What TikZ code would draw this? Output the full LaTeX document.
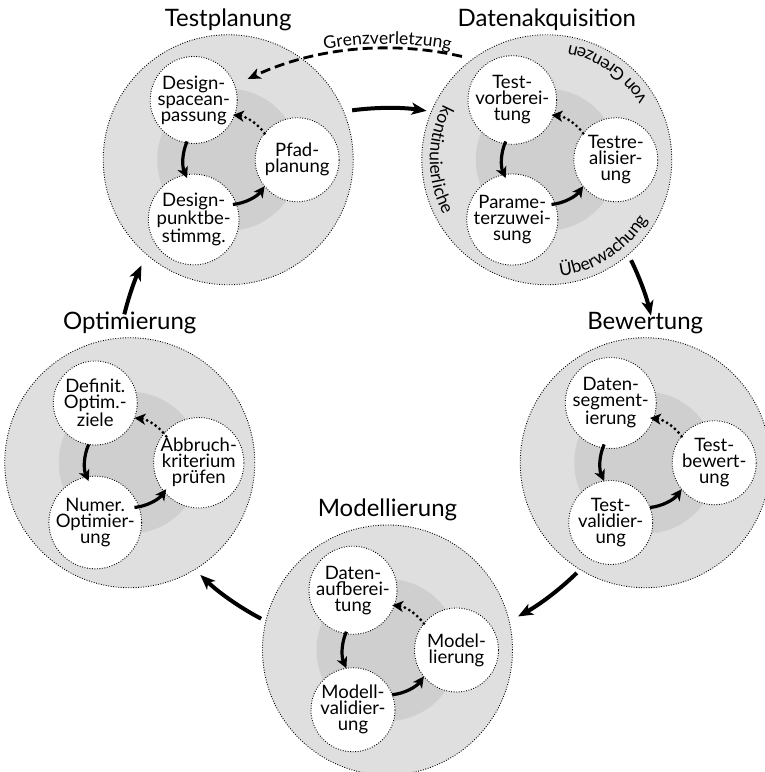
\documentclass[tikz,border=0pt]{standalone}
\usepackage{fontspec}
\setmainfont{Lato}
\usetikzlibrary{calc,arrows.meta,decorations.text}

\definecolor{outerfill}{gray}{0.875}
\definecolor{innerfill}{gray}{0.81}

\newcommand\stagefont{\fontsize{24pt}{28pt}\selectfont}
\newcommand\stepfont{\fontsize{18.5pt}{16pt}\selectfont}
\newcommand\curvefont{\fontsize{17.5pt}{19pt}\selectfont}

% one stage: name, angle on the cycle, title, upper task, lower task, right task
\newcommand\stagenode[6]{%
  \node[stage] (#1) at ($(P)+(#2:271)$) {};
  \node[core] (#1c) at (#1) {};
  \node[stagelabel] (#1l) at ($(#1.north)+(0,8.5)$) {#3};
  \node[task] (#1a) at ($(#1)+(120:69)$) {#4};
  \node[task] (#1b) at ($(#1)+(240:69)$) {#5};
  \node[task] (#1r) at ($(#1)+(0:69)$) {#6};
  \coordinate (#1s1) at ($(#1)+(156:45)$);
  \coordinate (#1s2) at ($(#1)+(276:45)$);
  \coordinate (#1s3) at ($(#1)+(36:45)$);
  \draw[turn] (#1s1) arc[start angle=156, end angle=204, radius=45];
  \draw[turn] (#1s2) arc[start angle=276, end angle=324, radius=45];
  \draw[backstep] (#1s3) arc[start angle=36, end angle=84, radius=45];
}

\begin{document}
\begin{tikzpicture}[x=1pt,y=1pt,
  stage/.style={circle, minimum size=250pt, inner sep=0pt, outer sep=0pt,
    fill=outerfill, draw, line width=0.9pt, dash pattern=on 0.9pt off 1.6pt},
  core/.style={circle, minimum size=142pt, inner sep=0pt, outer sep=0pt, fill=innerfill},
  task/.style={circle, minimum size=84pt, inner sep=0pt, outer sep=0pt, fill=white,
    draw, line width=0.9pt, dash pattern=on 0.9pt off 1.6pt, align=center, font=\stepfont},
  stagelabel/.style={anchor=base, font=\stagefont, inner sep=0pt},
  flowarrow/.style={line width=4pt, -{Stealth[length=15pt,width=12pt,inset=4pt]}},
  turn/.style={line width=3.2pt, -{Stealth[length=11pt,width=11pt,inset=3pt]}},
  backstep/.style={line width=3.2pt, line cap=round, dash pattern=on 0pt off 5pt,
    -{Stealth[length=11pt,width=11pt,inset=3pt]}},
  limitline/.style={line width=2.8pt, dash pattern=on 10pt off 5pt,
    -{Stealth[length=13pt,width=11pt,inset=3.5pt]}},
  curvetext/.style={decorate, decoration={text along path, text align=center,
    text={|\curvefont|#1}}}
]
\useasboundingbox (0,0) rectangle (765,772);
\coordinate (P) at (387.5,393);

\stagenode{tp}{126}{Testplanung}{Design-\\spacean-\\passung}{Design-\\punktbe-\\stimmg.}{Pfad-\\planung}
\stagenode{da}{54}{Datenakquisition}{Test-\\vorberei-\\tung}{Parame-\\terzuwei-\\sung}{Testre-\\alisier-\\ung}
\stagenode{bw}{-18}{Bewertung}{Daten-\\segment-\\ierung}{Test-\\validier-\\ung}{Test-\\bewert-\\ung}
\stagenode{ml}{-90}{Modellierung}{Daten-\\aufberei-\\tung}{Modell-\\validier-\\ung}{Model-\\lierung}
\stagenode{op}{198}{Optimierung}{Definit.\\Optim.-\\ziele}{Numer.\\Optimier-\\ung}{Abbruch-\\kriterium\\prüfen}

% arrows of the main cycle
\coordinate (f1) at ($(P)+(97.5:271)$);
\coordinate (f2) at ($(P)+(26:271)$);
\coordinate (f3) at ($(P)+(-45.7:271)$);
\coordinate (f4) at ($(P)+(242.2:271)$);
\coordinate (f5) at ($(P)+(166.2:271)$);
\draw[flowarrow] (f1) arc[start angle=97.5, end angle=81.7, radius=271];
\draw[flowarrow] (f2) arc[start angle=26, end angle=13.5, radius=271];
\draw[flowarrow] (f3) arc[start angle=-45.7, end angle=-61.2, radius=271];
\draw[flowarrow] (f4) arc[start angle=242.2, end angle=226.3, radius=271];
\draw[flowarrow] (f5) arc[start angle=166.2, end angle=155.2, radius=271];

% feedback on a limit violation
\coordinate (g0) at ($(P)+(77:331)$);
\draw[limitline] (g0) arc[start angle=77, end angle=115, radius=331];
\coordinate (g1) at ($(P)+(110:335)$);
\path[curvetext={Grenzverletzung}] (g1) arc[start angle=110, end angle=70, radius=335];

% monitoring text around the acquisition stage
\coordinate (m1) at ($(da)+(130:117)$);
\coordinate (m2) at ($(da)+(-107:117)$);
\coordinate (m3) at ($(da)+(5:117)$);
\path[curvetext={kontinuierliche}] (m1) arc[start angle=130, end angle=230, radius=117];
\path[curvetext={Überwachung}] (m2) arc[start angle=-107, end angle=-7, radius=117];
\path[curvetext={von Grenzen}] (m3) arc[start angle=5, end angle=105, radius=117];
\end{tikzpicture}
\end{document}
